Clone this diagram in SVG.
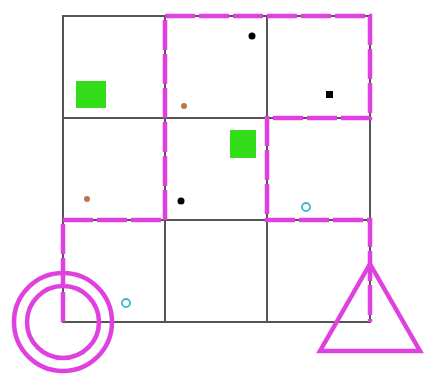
<svg xmlns="http://www.w3.org/2000/svg" width="424" height="376" viewBox="0 0 424 376">
<style>
.grid{stroke:#555;stroke-width:2;fill:none}
.route{stroke:#e040e0;stroke-width:4.5;fill:none;stroke-linejoin:miter}
.green{fill:#33dd1a}
.brown{fill:#b8774a}
.black{fill:#000}
.ring{fill:none;stroke:#3fb8c8;stroke-width:1.8}
</style>
<rect width="424" height="376" fill="#fff"/>
<g id="grid">
<rect class="grid" x="63" y="16" width="307" height="306"/>
<line class="grid" x1="165" y1="16" x2="165" y2="322"/>
<line class="grid" x1="267" y1="16" x2="267" y2="322"/>
<line class="grid" x1="63" y1="118" x2="370" y2="118"/>
<line class="grid" x1="63" y1="220" x2="370" y2="220"/>
</g>
<g id="connectors">
<path class="route" stroke-dasharray="30 4" d="M63,322 V220 H165 V16 H370 V118 H267 V220 H370 V322"/>
</g>
<g id="start">
<circle cx="63" cy="322" r="49" fill="none" stroke="#e040e0" stroke-width="4.5"/>
<circle cx="63" cy="322" r="36" fill="none" stroke="#e040e0" stroke-width="4.5"/>
</g>
<g id="goal">
<polygon points="370,264 420,351 320,351" fill="none" stroke="#e040e0" stroke-width="4.5"/>
</g>
<g id="objects">
<rect id="green1" class="green" x="76" y="81" width="30" height="27"/>
<rect id="green2" class="green" x="230" y="130" width="26" height="28"/>
<circle id="brown1" class="brown" cx="184" cy="106" r="3"/>
<circle id="brown2" class="brown" cx="87" cy="199" r="3"/>
<circle id="dot1" class="black" cx="252" cy="36" r="3.5"/>
<circle id="dot2" class="black" cx="181" cy="201" r="3.5"/>
<rect id="sq" class="black" x="326" y="91" width="7" height="7"/>
<circle id="ring1" class="ring" cx="126" cy="303" r="4"/>
<circle id="ring2" class="ring" cx="306" cy="207" r="4"/>
</g>
</svg>
